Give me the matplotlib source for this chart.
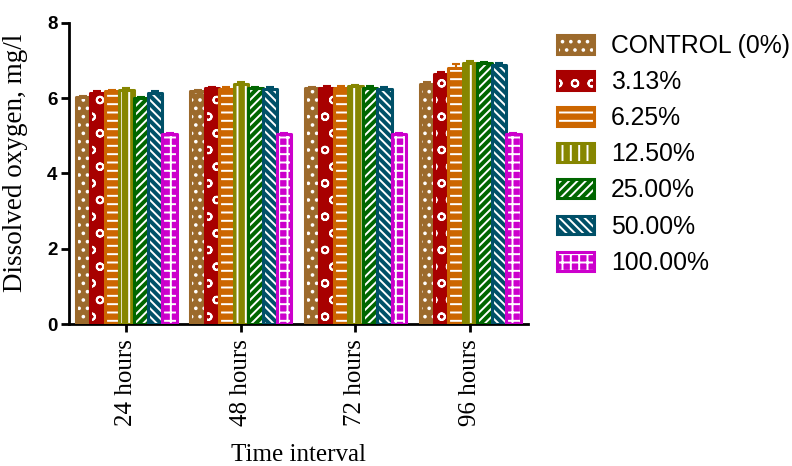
import numpy as np
import matplotlib.pyplot as plt
from matplotlib.patches import Patch
from matplotlib.transforms import ScaledTranslation

# Dissolved oxygen (mg/l) per treatment at each time interval
intervals = ['24 hours', '48 hours', '72 hours', '96 hours']
treatments = ['CONTROL (0%)', '3.13%', '6.25%', '12.50%', '25.00%', '50.00%', '100.00%']

control = [6.02, 6.18, 6.26, 6.38]
c313 = [6.15, 6.26, 6.28, 6.65]
c625 = [6.18, 6.25, 6.28, 6.80]
c1250 = [6.22, 6.38, 6.32, 6.93]
c2500 = [6.00, 6.27, 6.28, 6.93]
c5000 = [6.15, 6.25, 6.25, 6.88]
c10000 = [5.05, 5.05, 5.05, 5.05]

control_err = [0.03, 0.04, 0.04, 0.05]
c313_err = [0.04, 0.04, 0.04, 0.05]
c625_err = [0.04, 0.04, 0.04, 0.10]
c1250_err = [0.04, 0.05, 0.04, 0.05]
c2500_err = [0.03, 0.04, 0.04, 0.04]
c5000_err = [0.05, 0.04, 0.04, 0.05]
c10000_err = [0.03, 0.03, 0.03, 0.03]

series = [control, c313, c625, c1250, c2500, c5000, c10000]
errors = [control_err, c313_err, c625_err, c1250_err, c2500_err, c5000_err, c10000_err]
colors = ['#9C6A2C', '#A80000', '#CC6600', '#868600', '#006600', '#005068', '#CC00CC']
hatches = ['..', 'o', '--', '||', '////', '\\\\\\\\', '++']

plt.rcParams['hatch.linewidth'] = 1.4

fig = plt.figure(figsize=(7.92, 4.66), dpi=100)
ax = fig.add_axes([0.0865, 0.3047, 0.58, 0.646])

x = np.arange(len(intervals))
width = 0.126
for i, (vals, errs, col, hat) in enumerate(zip(series, errors, colors, hatches)):
    pos = x + (i - 3) * width
    # filled bar with white hatching, then a coloured outline on top
    ax.bar(pos, vals, width, color=col, edgecolor='white', hatch=hat, linewidth=0, zorder=2)
    ax.bar(pos, vals, width, fill=False, edgecolor=col, linewidth=2.2, joinstyle='round', zorder=3)
    ax.errorbar(pos, vals, yerr=errs, fmt='none', ecolor=col, elinewidth=1.5, capsize=3,
                capthick=1.5, zorder=1)

ax.set_xlim(-0.505, 3.505)
ax.set_ylim(0, 8)
ax.set_yticks([0, 2, 4, 6, 8])
ax.set_xticks(x)
ax.set_xticklabels(intervals, rotation=90, family='Liberation Serif', fontsize=18)
shift = ScaledTranslation(0.05, 0, fig.dpi_scale_trans)
for lab in ax.get_xticklabels():
    lab.set_transform(lab.get_transform() + shift)
for lab in ax.get_yticklabels():
    lab.set_family('Liberation Sans')
    lab.set_fontweight('bold')
    lab.set_fontsize(13.5)

for side in ['top', 'right']:
    ax.spines[side].set_visible(False)
for side in ['left', 'bottom']:
    ax.spines[side].set_linewidth(2)
ax.tick_params(axis='both', width=2, length=6, direction='out')
ax.tick_params(axis='y', pad=2)
ax.tick_params(axis='x', pad=5)

ax.set_xlabel('Time interval', family='Liberation Serif', fontsize=18, labelpad=13)
ax.set_ylabel('Dissolved oxygen, mg/l', family='Liberation Serif', fontsize=19.5)
ax.yaxis.set_label_coords(-0.089, 0.535)

handles = []
for col, hat in zip(colors, hatches):
    fill = Patch(facecolor=col, edgecolor='white', hatch=hat, linewidth=0)
    outline = Patch(fill=False, edgecolor=col, linewidth=2.2, joinstyle='round')
    handles.append((fill, outline))

fig.legend(handles, treatments, loc='upper left', bbox_to_anchor=(0.703, 0.927),
           frameon=False, prop={'family': 'Liberation Sans', 'size': 17.8},
           handlelength=1.5, handleheight=0.8, labelspacing=0.49, handletextpad=0.7,
           borderpad=0, borderaxespad=0)

fig.savefig('out.png', dpi=100)
